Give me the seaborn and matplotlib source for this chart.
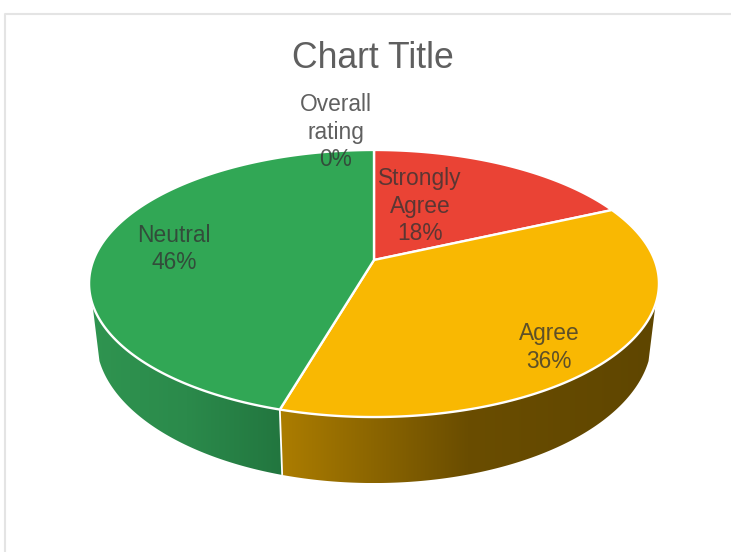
import numpy as np
import matplotlib
matplotlib.use("Agg")
import matplotlib.pyplot as plt
import seaborn as sns
from matplotlib.colors import LinearSegmentedColormap
from matplotlib.patches import Polygon

# ---- data
categories = ["Overall\nrating", "Strongly\nAgree", "Agree", "Neutral"]
values = [0.0, 18.2, 36.3, 45.5]
slice_colors = ["#4285F4", "#EA4335", "#F9B802", "#31A755"]
wall_shades = {
    "Agree": ["#AC7D00", "#6A4D00", "#5F4600"],
    "Neutral": ["#2F9450", "#2B8A4B", "#22763F"],
}

# ---- layout (pixels of the 731x552 canvas)
CX, APEX_Y = 374, 260
A, B, K = 280.5, 129.4, 0.176       # perspective of the top disc
WALL_X, WALL_Y_A, WALL_Y_B = 0.975, 1.079, 53.6
WALL_START, WALL_END = 108.7, 251.3  # visible part of the rim, degrees clockwise from 12 o'clock
label_xy = [(336, 132), (420, 206.5), (549, 347.5), (174, 249)]

sns.set_theme(style="white")
plt.rcParams["font.family"] = ["Liberation Sans", "DejaVu Sans"]
palette = sns.color_palette(slice_colors)


def top(theta):
    t = np.radians(theta)
    u, v = np.sin(t), np.cos(t)
    d = 1 + K * v
    return CX + A * u / d, APEX_Y - B * v / d


def bottom(theta):
    x, y = top(theta)
    return CX + WALL_X * (x - CX), APEX_Y + WALL_Y_A * (y - APEX_Y) + WALL_Y_B


fig = plt.figure(figsize=(7.31, 5.52), dpi=100, facecolor="white")
ax = fig.add_axes([0, 0, 1, 1])
ax.set_axis_off()

fracs = np.array(values) / sum(values)
edges = np.concatenate([[0], np.cumsum(fracs) * 360])

# walls
for name, c0, c1 in zip(categories, edges[:-1], edges[1:]):
    lo, hi = max(c0, WALL_START), min(c1, WALL_END)
    if hi <= lo or name not in wall_shades:
        continue
    th = np.linspace(lo, hi, 200)
    xt, yt = top(th)
    xb, yb = bottom(th)
    pts = np.column_stack([np.r_[xt, xb[::-1]], np.r_[yt, yb[::-1]]])
    cmap = LinearSegmentedColormap.from_list(name, wall_shades[name])
    x0, x1 = pts[:, 0].min(), pts[:, 0].max()
    y0, y1 = pts[:, 1].min(), pts[:, 1].max()
    grad = np.linspace(0, 1, 256)[None, :]
    im = ax.imshow(grad, cmap=cmap, extent=(x0, x1, y1, y0), aspect="auto", zorder=1)
    poly = Polygon(pts, closed=True, transform=ax.transData, facecolor="none", edgecolor="none")
    ax.add_patch(poly)
    im.set_clip_path(poly)

# divider on the wall between slices
for e in edges[1:-1]:
    if WALL_START < e < WALL_END:
        xt, yt = top(e)
        xb, yb = bottom(e)
        ax.plot([xt, xb], [yt, yb], color="white", lw=1.3, zorder=2, solid_capstyle="butt")

# top surface
for col, c0, c1 in zip(palette, edges[:-1], edges[1:]):
    if c1 - c0 <= 0:
        continue
    th = np.linspace(c0, c1, 300)
    xt, yt = top(th)
    ax.fill(np.r_[CX, xt], np.r_[APEX_Y, yt], facecolor=col, edgecolor="white",
            lw=1.7, joinstyle="round", zorder=3)

# labels
for name, val, (lx, ly) in zip(categories, values, label_xy):
    ax.text(lx, ly, f"{name}\n{round(val)}%", ha="center", va="center", fontsize=16.4,
            color="#333333", alpha=0.78, linespacing=1.25, zorder=5)

ax.text(373, 58.5, "Chart Title", ha="center", va="center", fontsize=25.6, color="#5F5F5F", zorder=5)

# chart frame
ax.plot([5, 5, 731], [552, 13.5, 13.5], color="#E4E4E4", lw=1.5, zorder=0)

ax.set_xlim(0, 731)
ax.set_ylim(552, 0)
fig.savefig("out.png", dpi=100, facecolor="white")
